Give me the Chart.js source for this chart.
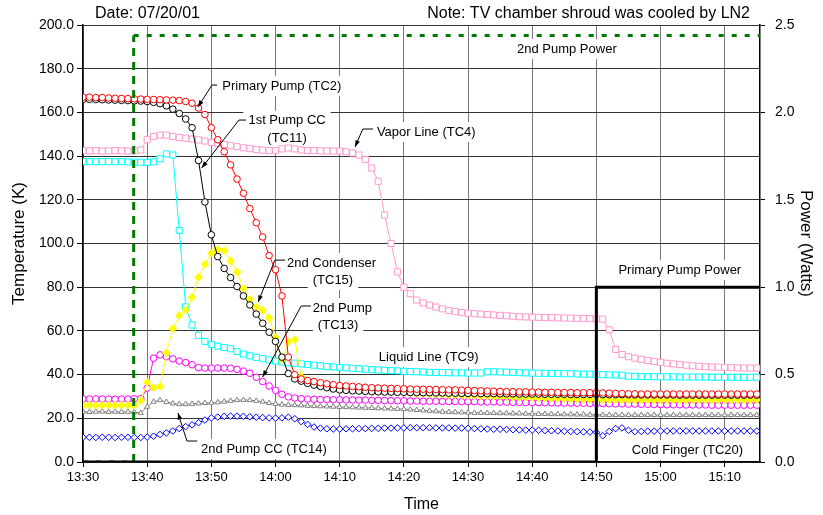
<!DOCTYPE html>
<html>
<head>
<meta charset="utf-8">
<script src="https://cdn.jsdelivr.net/npm/chart.js@4"></script>
<style>
  body { margin: 0; background: #fff; }
</style>
</head>
<body>
<canvas id="chart" width="823" height="515"></canvas>
<script>
// minutes after 13:30
const minutes = [
  0,1,2,3,4,5,6,7,8,9,10,11,12,13,14,15,16,17,18,19,
  20,21,22,23,24,25,26,27,28,29,30,31,32,33,34,35,36,37,38,39,
  40,41,42,43,44,45,46,47,48,49,50,51,52,53,54,55,56,57,58,59,
  60,61,62,63,64,65,66,67,68,69,70,71,72,73,74,75,76,77,78,79,
  80,81,82,83,84,85,86,87,88,89,90,91,92,93,94,95,96,97,98,99,
  100,101,102,103,104,105
];

// temperatures (K)
const tc2 = [
  167.0,167.0,166.8,166.8,166.6,166.5,166.4,166.3,166.2,166.1,
  166.0,165.9,165.8,165.7,165.6,165.4,165.0,164.2,162.0,159.0,
  153.0,147.5,142.0,136.0,129.5,123.0,116.0,109.5,103.0,94.5,
  88.0,76.0,48.0,40.0,38.0,37.3,36.8,36.3,35.8,35.4,
  35.0,34.8,34.6,34.4,34.2,34.0,33.9,33.8,33.7,33.6,
  33.5,33.4,33.3,33.3,33.2,33.2,33.1,33.0,33.0,32.9,
  32.8,32.7,32.6,32.5,32.4,32.3,32.2,32.2,32.1,32.1,
  32.0,32.0,31.9,31.9,31.8,31.8,31.8,31.7,31.7,31.7,
  31.7,31.6,31.5,31.4,31.3,31.2,31.2,31.1,31.1,31.1,
  31.1,31.1,31.1,31.1,31.1,31.1,31.1,31.1,31.1,31.1,
  31.1,31.1,31.1,31.1,31.1,31.1
];
const tc11 = [
  166.0,166.0,165.9,165.8,165.7,165.6,165.5,165.4,165.3,165.2,
  165.0,164.6,164.0,163.0,161.5,159.5,157.0,153.0,138.0,119.0,
  104.0,94.0,88.6,84.4,80.3,76.0,71.9,67.7,63.5,59.4,
  55.2,48.0,40.5,38.0,37.0,36.0,35.2,34.6,34.0,33.4,
  33.0,32.8,32.6,32.5,32.3,32.2,32.1,32.0,32.0,31.9,
  31.9,31.8,31.8,31.7,31.7,31.6,31.6,31.5,31.5,31.4,
  31.4,31.4,31.3,31.3,31.3,31.2,31.2,31.2,31.1,31.1,
  31.1,31.1,31.0,31.0,31.0,31.0,30.9,30.9,30.9,30.9,
  30.9,30.8,30.8,30.8,30.8,30.8,30.7,30.7,30.7,30.7,
  30.7,30.7,30.7,30.6,30.6,30.6,30.6,30.6,30.6,30.6,
  30.6,30.6,30.6,30.6,30.6,30.6
];
const tc4 = [
  142.5,142.4,142.5,142.3,142.4,142.5,142.4,142.3,142.4,142.8,
  147.5,149.0,149.6,149.6,149.0,148.5,148.2,147.8,147.4,146.9,
  146.3,145.8,145.3,144.8,144.3,143.8,143.4,143.0,142.7,142.5,
  142.5,143.3,143.7,143.3,142.8,142.5,142.5,142.4,142.4,142.3,
  142.3,142.0,141.4,140.5,138.5,134.5,128.5,113.0,100.0,87.0,
  80.0,77.0,74.1,72.8,71.8,70.9,70.1,69.3,68.8,68.4,
  68.1,67.9,67.7,67.5,67.3,67.1,66.9,66.7,66.5,66.4,
  66.3,66.2,66.1,66.0,66.0,65.9,65.8,65.8,65.7,65.6,
  65.5,65.4,60.5,51.5,49.2,48.2,47.5,47.0,46.5,46.0,
  45.6,45.2,44.9,44.6,44.3,44.0,43.8,43.6,43.5,43.4,
  43.3,43.2,43.1,43.0,43.0,43.0
];
const tc9 = [
  137.5,137.5,137.4,137.5,137.5,137.4,137.5,137.3,137.2,137.2,
  137.1,137.4,138.8,141.0,140.5,106.0,71.0,62.7,58.0,55.2,
  53.8,53.0,52.4,51.8,50.6,49.4,48.6,47.9,47.3,46.7,
  46.2,45.8,45.5,45.2,44.9,44.6,44.3,44.0,43.7,43.5,
  43.3,43.1,42.9,42.7,42.5,42.3,42.1,42.0,41.8,41.7,
  41.5,41.4,41.3,41.2,41.0,41.0,40.9,40.9,40.8,40.8,
  40.7,40.7,40.7,41.3,41.3,41.2,41.1,41.0,40.9,40.8,
  40.7,40.6,40.6,40.5,40.5,40.4,40.4,40.3,40.2,40.2,
  40.1,40.0,39.9,39.8,39.7,39.3,39.2,39.1,39.1,39.0,
  39.0,39.0,39.0,38.9,38.9,38.9,38.9,38.9,38.8,38.8,
  38.8,38.8,38.8,38.8,38.8,38.8
];
const tc15 = [
  26.0,26.0,25.9,26.0,26.0,25.9,26.0,26.0,25.9,28.0,
  36.5,34.0,34.5,50.0,61.0,67.0,69.6,75.5,84.5,90.5,
  95.5,97.3,96.8,92.0,87.0,79.5,74.5,71.0,69.5,66.0,
  57.0,47.0,55.0,56.0,39.0,37.2,36.0,35.3,34.8,34.4,
  34.0,33.7,33.4,33.2,33.0,32.8,32.6,32.4,32.2,32.0,
  31.8,31.6,31.4,31.3,31.1,31.0,30.9,30.8,30.7,30.6,
  30.5,30.4,30.3,30.2,30.1,30.0,29.9,29.8,29.7,29.6,
  29.5,29.4,29.3,29.2,29.1,29.0,28.9,28.8,28.7,28.6,
  28.5,28.5,28.4,28.4,28.4,28.4,28.4,28.4,28.4,28.4,
  28.4,28.4,28.4,28.4,28.4,28.4,28.4,28.4,28.4,28.4,
  28.4,28.4,28.4,28.4,28.4,28.4
];
const tc13 = [
  28.8,28.8,28.9,28.8,28.8,28.7,28.8,28.8,28.9,29.0,
  33.8,47.5,49.0,48.2,47.2,46.2,45.5,44.5,43.2,43.0,
  43.0,43.0,43.0,42.9,42.4,41.6,40.6,38.8,36.8,34.8,
  32.8,31.0,29.8,29.3,29.0,28.8,28.7,28.6,28.6,28.5,
  28.5,28.4,28.4,28.3,28.3,28.2,28.2,28.1,28.1,28.0,
  28.0,27.9,27.9,27.8,27.8,27.8,27.7,27.7,27.7,27.6,
  27.6,27.6,27.5,27.5,27.5,27.4,27.4,27.3,27.3,27.2,
  27.2,27.2,27.1,27.1,27.0,27.0,27.0,26.9,26.9,26.8,
  26.8,26.7,26.7,26.6,26.6,26.5,26.5,26.4,26.4,26.3,
  26.3,26.2,26.2,26.2,26.1,26.1,26.1,26.1,26.0,26.0,
  26.0,26.0,26.0,26.0,26.0,26.0
];
const tc14 = [
  23.0,22.9,23.0,23.1,22.9,23.0,22.9,23.0,22.8,22.5,
  25.3,27.6,28.3,27.5,26.8,26.5,26.5,26.6,26.8,27.0,
  27.1,27.3,27.6,28.0,28.3,28.4,28.3,28.0,27.6,27.0,
  26.6,26.3,26.1,26.0,25.9,25.7,25.6,25.5,25.4,25.3,
  25.2,25.1,25.0,24.9,24.8,24.7,24.6,24.5,24.4,24.3,
  24.2,24.0,23.8,23.6,23.4,23.2,23.0,22.9,22.8,22.7,
  22.6,22.5,22.5,22.4,22.4,22.3,22.3,22.2,22.2,22.1,
  22.1,22.0,22.0,21.9,21.9,21.8,21.8,21.7,21.7,21.6,
  21.6,21.6,21.5,21.5,21.5,21.5,21.5,21.5,21.5,21.5,
  21.5,21.5,21.5,21.5,21.5,21.5,21.5,21.5,21.5,21.5,
  21.5,21.5,21.5,21.5,21.5,21.5
];
const tc20 = [
  11.3,11.3,11.2,11.3,11.3,11.2,11.3,11.3,11.2,11.2,
  11.4,11.8,12.6,13.3,14.2,15.3,16.2,17.0,18.0,19.2,
  20.2,20.6,20.9,21.0,21.0,20.9,20.7,20.5,20.3,20.2,
  20.1,20.2,20.5,19.8,18.5,17.2,16.0,15.5,15.2,15.1,
  15.1,15.2,15.2,15.3,15.3,15.4,15.4,15.5,15.5,15.6,
  15.6,15.7,15.7,15.7,15.7,15.6,15.6,15.6,15.5,15.5,
  15.4,15.3,15.2,15.1,15.0,15.0,14.9,14.8,14.7,14.6,
  14.6,14.5,14.4,14.3,14.2,14.1,14.0,13.9,13.8,13.7,
  13.6,12.0,14.0,15.3,15.6,14.5,13.9,14.0,14.1,14.1,
  14.2,14.2,14.2,14.2,14.2,14.2,14.2,14.2,14.2,14.2,
  14.2,14.2,14.2,14.2,14.2,14.2
];

// heater power (W), right axis
const pump2PowerTime = [0, 7.9, 7.9, 105.5];
const pump2Power = [0, 0, 2.44, 2.44];
const primaryPowerTime = [0, 80, 80, 105.5];
const primaryPower = [0, 0, 1.0, 1.0];

// callout labels: text, minutes, kelvin, alignment
const notes = [
  ['Primary Pump (TC2)', 21.7, 172.1, 'left'],
  ['1st Pump CC', 31.8, 156.1, 'center'],
  ['(TC11)', 31.8, 148.3, 'center'],
  ['Vapor Line (TC4)', 45.8, 151.0, 'left'],
  ['2nd Condenser', 31.8, 91.1, 'left'],
  ['(TC15)', 35.8, 83.3, 'left'],
  ['2nd Pump', 35.8, 70.5, 'left'],
  ['(TC13)', 36.6, 62.7, 'left'],
  ['Liquid Line (TC9)', 46.1, 48.0, 'left'],
  ['2nd Pump CC (TC14)', 18.4, 5.9, 'left'],
  ['Cold Finger (TC20)', 94.2, 5.5, 'center'],
  ['Primary Pump Power', 93.0, 87.9, 'center'],
  ['2nd Pump Power', 75.4, 189.0, 'center']
];
// leader lines, last point gets the arrow head
const leaders = [
  [[20.9, 172.5], [20.1, 172.5], [17.9, 162.5]],
  [[25.4, 156.5], [24.3, 156.5], [18.5, 134.6]],
  [[45.2, 152.4], [43.6, 152.4], [42.4, 144.2]],
  [[31.5, 92.4], [29.9, 92.4], [27.3, 73.2]],
  [[35.5, 71.4], [34.0, 71.4], [28.0, 38.9]],
  [[17.8, 9.6], [16.2, 9.6], [14.8, 22.4]]
];

const FONT = "'Liberation Sans', Arial, sans-serif";
Chart.defaults.font.family = FONT;
Chart.defaults.color = '#000';

function pts(xs, ys) {
  return xs.map((x, i) => ({x: x, y: ys[i]}));
}

function tempSeries(label, ys, color, style, radius, fill) {
  return {
    label: label,
    data: pts(minutes, ys),
    yAxisID: 'y',
    borderColor: color,
    borderWidth: 1,
    pointStyle: style,
    pointRadius: radius,
    pointBorderColor: color,
    pointBorderWidth: 1,
    pointBackgroundColor: fill || '#fff'
  };
}

function fmtTime(v) {
  const m = 13 * 60 + 30 + v;
  return Math.floor(m / 60) + ':' + String(m % 60).padStart(2, '0');
}

const labelsPlugin = {
  id: 'callouts',
  beforeDatasetsDraw(chart) {
    const {ctx, scales: {x, y}} = chart;
    ctx.save();
    ctx.font = '13px ' + FONT;
    ctx.textBaseline = 'middle';
    notes.forEach(n => {
      const px = x.getPixelForValue(n[1]);
      const py = y.getPixelForValue(n[2]);
      const w = ctx.measureText(n[0]).width;
      const left = n[3] === 'center' ? px - w / 2 : px;
      ctx.fillStyle = '#fff';
      ctx.fillRect(left - 5, py - 10, w + 10, 20);
      ctx.fillStyle = '#000';
      ctx.textAlign = 'left';
      ctx.fillText(n[0], left, py);
    });
    ctx.restore();
  },
  afterDatasetsDraw(chart) {
    const {ctx, scales: {x, y}} = chart;
    ctx.save();
    ctx.strokeStyle = '#000';
    ctx.fillStyle = '#000';
    ctx.lineWidth = 1;
    leaders.forEach(line => {
      const p = line.map(q => [x.getPixelForValue(q[0]), y.getPixelForValue(q[1])]);
      ctx.beginPath();
      ctx.moveTo(p[0][0], p[0][1]);
      for (let i = 1; i < p.length; i++) ctx.lineTo(p[i][0], p[i][1]);
      ctx.stroke();
      const a = p[p.length - 1], b = p[p.length - 2];
      const ang = Math.atan2(a[1] - b[1], a[0] - b[0]);
      ctx.beginPath();
      ctx.moveTo(a[0], a[1]);
      ctx.lineTo(a[0] - 7 * Math.cos(ang - 0.35), a[1] - 7 * Math.sin(ang - 0.35));
      ctx.lineTo(a[0] - 7 * Math.cos(ang + 0.35), a[1] - 7 * Math.sin(ang + 0.35));
      ctx.closePath();
      ctx.fill();
    });
    ctx.restore();
  },
  afterDraw(chart) {
    const ctx = chart.ctx;
    ctx.save();
    ctx.font = '16px ' + FONT;
    ctx.fillStyle = '#000';
    ctx.textBaseline = 'middle';
    ctx.textAlign = 'left';
    ctx.fillText('Date: 07/20/01', 95, 14);
    ctx.textAlign = 'right';
    ctx.fillText('Note: TV chamber shroud was cooled by LN2', 750, 14);
    ctx.restore();
  }
};

new Chart(document.getElementById('chart'), {
  type: 'line',
  data: {
    datasets: [
      {
        label: 'Primary Pump Power',
        data: pts(primaryPowerTime, primaryPower),
        yAxisID: 'y2',
        borderColor: '#000',
        borderWidth: 3,
        pointRadius: 0
      },
      {
        label: '2nd Pump Power',
        data: pts(pump2PowerTime, pump2Power),
        yAxisID: 'y2',
        borderColor: '#007a00',
        borderWidth: 3,
        pointRadius: 0,
        segment: {
          borderDash: c => Math.abs(c.p0.x - c.p1.x) < 1 ? [8, 6] : [5, 8]
        }
      },
      tempSeries('Primary Pump (TC2)', tc2, '#ff0000', 'circle', 3.3),
      tempSeries('1st Pump CC (TC11)', tc11, '#000000', 'circle', 3.3),
      tempSeries('2nd Condenser (TC15)', tc15, '#ffff00', 'rectRot', 3.8, '#ffff00'),
      tempSeries('Vapor Line (TC4)', tc4, '#ff99cc', 'rect', 4.3),
      tempSeries('Liquid Line (TC9)', tc9, '#00ffff', 'rect', 4.3),
      tempSeries('2nd Pump (TC13)', tc13, '#ff00ff', 'circle', 3.3),
      tempSeries('2nd Pump CC (TC14)', tc14, '#808080', 'triangle', 3),
      tempSeries('Cold Finger (TC20)', tc20, '#0000ff', 'rectRot', 3.3)
    ]
  },
  options: {
    responsive: false,
    animation: false,
    events: [],
    layout: { padding: { top: 25, left: 0, right: 0, bottom: 0 } },
    plugins: { legend: { display: false }, tooltip: { enabled: false } },
    scales: {
      x: {
        type: 'linear',
        position: 'bottom',
        min: 0,
        max: 105.5,
        afterFit: s => { s.height = 53; },
        ticks: { stepSize: 10, includeBounds: false, autoSkip: false, maxRotation: 0, padding: 3, font: { size: 13 }, callback: v => fmtTime(v) },
        grid: { color: '#777', tickLength: 5, tickColor: '#000' },
        border: { color: '#000', width: 1.5 },
        title: { display: true, text: 'Time', font: { size: 16 }, padding: { top: 0, bottom: 1 } }
      },
      y: {
        position: 'left',
        min: 0,
        max: 200,
        afterFit: s => { s.width = 83; },
        ticks: { stepSize: 20, padding: 3, font: { size: 14 }, callback: v => v.toFixed(1) },
        grid: { color: '#333', tickLength: 6, tickColor: '#000' },
        border: { color: '#000', width: 1.5 },
        title: { display: true, text: 'Temperature (K)', font: { size: 17 }, padding: { top: 9, bottom: 0 } }
      },
      y2: {
        position: 'right',
        min: 0,
        max: 2.5,
        afterFit: s => { s.width = 63; },
        ticks: { stepSize: 0.5, padding: 10, font: { size: 14 }, callback: v => v.toFixed(1) },
        grid: { drawOnChartArea: false, tickLength: 5, tickColor: '#000' },
        border: { color: '#000', width: 1.5 },
        title: { display: true, text: 'Power (Watts)', font: { size: 17 }, padding: { top: 7, bottom: 0 } }
      }
    }
  },
  plugins: [labelsPlugin]
});
</script>
</body>
</html>
